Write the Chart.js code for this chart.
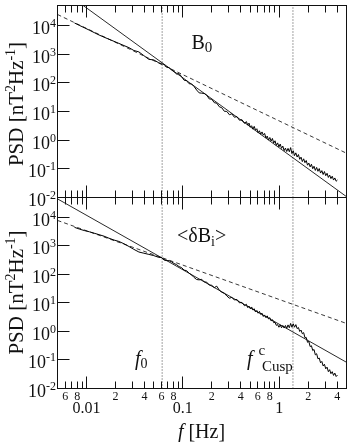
<!DOCTYPE html>
<html><head><meta charset="utf-8">
<script src="https://cdn.jsdelivr.net/npm/chart.js@4.4.1/dist/chart.umd.min.js"></script>
<style>
html,body{margin:0;padding:0;background:#fff;}
#wrap{position:relative;width:349px;height:442px;overflow:hidden;}
canvas{position:absolute;left:0;top:0;}
</style></head><body>
<div id="wrap"><canvas id="c1" width="349" height="442"></canvas><canvas id="c2" width="349" height="442"></canvas></div>
<script>
// ---- data ----
const freq = [0.0075,0.0085,0.0095,0.0107,0.012,0.0135,0.0152,0.0171,0.0193,0.0217,0.0245,0.0276,0.031,0.035,0.0394,0.0444,0.05,0.0563,
0.06,0.0637,0.0677,0.0719,0.0763,0.081,0.086,0.0914,0.097,0.103,0.1094,0.1162,0.1234,0.131,0.1391,0.1478,0.157,0.1667,0.177,0.188,0.1996,0.212,0.2251,0.2391,0.2539,0.2696,0.2863,0.3041,0.3229,0.343,0.3642,0.3868,0.4108,0.4362,
0.457,0.4717,0.4864,0.5017,0.5176,0.534,0.5508,0.5682,0.5861,0.6046,0.6237,0.6434,0.6637,0.6847,0.7063,0.7286,0.7516,0.7753,0.7998,0.8251,0.8511,0.878,0.9057,0.9343,0.9638,0.9943,1.0257,1.058,1.0914,1.1259,1.1614,1.1981,1.2359,1.275,1.3152,1.3568,1.3996,1.4439,1.4894,1.5365,1.585,1.635,1.687,1.74,1.795,1.852,1.91,1.971,2.032,2.097,2.163,2.231,2.301,2.374,2.449,2.527,2.606,2.689,2.773,2.861,2.951,3.044,3.141,3.24,3.342,3.448,3.556,3.669,3.784,3.904,4.027];

const psdB0 = [12300,10000,8360,6890,5690,4680,3930,3330,2810,2380,2000,1690,1350,1200,891,661,631,501,
468,437,361,339,282,245,204,209,166,124,119,93.3,91.2,74.1,56.2,44.7,43.7,42.7,37.2,27.5,26.9,20.4,19.5,14.7,13.5,10.2,10.1,7.73,8.32,6.31,6.68,4.97,5.20,3.87,
4.44,3.36,3.94,2.84,3.19,2.42,3.03,2.24,2.51,1.82,2.13,1.61,1.94,1.50,1.72,1.19,1.39,1.01,1.24,0.935,1.15,0.794,0.953,0.658,0.804,0.582,0.733,0.518,0.622,0.431,0.530,0.402,0.518,0.395,0.550,0.340,0.428,0.289,0.361,0.258,0.315,0.215,0.256,0.179,0.224,0.164,0.195,0.134,0.159,0.117,0.145,0.101,0.123,0.0881,0.112,0.0820,0.102,0.0713,0.0865,0.0634,0.0805,0.0577,0.0700,0.0501,0.0608,0.0456,0.0553,0.0406,0.0481,0.0369,0.0408];

const psdDB = [4500,3870,3460,3140,2800,2490,2200,1870,1610,1440,1190,957,760,612,556,505,457,397,
395,321,306,305,278,242,222,188,175,142,136,110,95.9,78.0,66.4,64.6,67.6,55.0,53.6,42.6,41.6,34.6,38.8,28.0,23.8,21.7,17.6,14.7,15.7,12.7,13.3,10.1,10.5,8.00,
8.99,6.89,7.80,6.25,7.24,5.68,6.28,4.81,5.45,4.37,5.06,3.96,4.39,3.36,3.80,3.05,3.53,2.77,3.06,2.34,2.59,2.03,2.10,1.64,1.74,1.41,1.70,1.35,1.62,1.32,1.62,1.29,1.70,1.35,1.91,1.41,1.86,1.41,1.74,1.26,1.38,1.00,1.12,0.832,0.912,0.603,0.617,0.417,0.447,0.295,0.316,0.214,0.234,0.151,0.166,0.110,0.117,0.0794,0.0891,0.0617,0.0708,0.0490,0.0562,0.0389,0.0457,0.0331,0.0389,0.0288,0.0347,0.0263,0.0295];

// power-law fits (end points at the x-range limits)
const fitFreq = [0.005, 5];
const fitB0Steep = [224000, 0.0107];
const fitB0Shallow = [24300, 0.35];
const fitDBSteep = [44700, 0.083];
const fitDBShallow = [7850, 1.91];

const f0 = 0.061;
const fCusp = 1.39;

const xRange = [0.005, 5];
const yRange = [0.01, 50000];
const yTickValues = [1e4, 1e3, 1e2, 1e1, 1, 0.1, 0.01];
const yTickExponents = ['4','3','2','1','0','-1','-2'];
const xMajorTicks = [0.01, 0.1, 1];
const xMajorLabels = ['0.01', '0.1', '1'];
const xMinorTicks = [0.006,0.007,0.008,0.009,0.02,0.03,0.04,0.05,0.06,0.07,0.08,0.09,0.2,0.3,0.4,0.5,0.6,0.7,0.8,0.9,2,3,4];
const xMinorLabelTicks = [0.006,0.008,0.02,0.04,0.06,0.08,0.2,0.4,0.6,0.8,2,4];
const xMinorLabelTexts = ['6','8','2','4','6','8','2','4','6','8','2','4'];

// ---- drawing helpers ----
const SERIF = '"Liberation Serif","DejaVu Serif","Times New Roman",serif';
function fnt(p){ return (p.it ? 'italic ' : '') + p.s + 'px ' + SERIF; }
function drawRich(ctx, x, y, parts, align){
  let w = 0;
  for (const p of parts){ ctx.font = fnt(p); p._w = ctx.measureText(p.t).width; w += p._w; }
  let cx = align === 'right' ? x - w : (align === 'center' ? x - w/2 : x);
  for (const p of parts){ ctx.font = fnt(p); ctx.fillText(p.t, cx, y + (p.dy || 0)); cx += p._w + (p.dx || 0); }
}
const crisp = v => Math.floor(v) + 0.5;

const decor = {
  id: 'decor',
  afterDraw(chart, args, opts){
    const {ctx, chartArea: a, scales: {x, y}} = chart;
    ctx.save();
    ctx.strokeStyle = '#111'; ctx.fillStyle = '#111'; ctx.lineWidth = 1;
    ctx.textBaseline = 'alphabetic';
    // frame
    ctx.strokeRect(a.left, a.top, a.right - a.left, a.bottom - a.top);
    // y ticks and labels
    yTickValues.forEach((v, i) => {
      const py = crisp(y.getPixelForValue(v));
      ctx.beginPath(); ctx.moveTo(a.left, py); ctx.lineTo(a.left + 12, py); ctx.stroke();
      drawRich(ctx, a.left - 1.5, py + 8, [{t:'10', s:18}, {t:yTickExponents[i], s:12, dy:-7}], 'right');
    });
    // x ticks (inward, top and bottom)
    const tick = (v, len) => {
      const px = crisp(x.getPixelForValue(v));
      ctx.beginPath();
      ctx.moveTo(px, a.top); ctx.lineTo(px, a.top + len);
      ctx.moveTo(px, a.bottom); ctx.lineTo(px, a.bottom - len);
      ctx.stroke();
    };
    xMajorTicks.forEach(v => tick(v, 12));
    xMinorTicks.forEach(v => tick(v, 7));
    // y-axis title
    ctx.save();
    ctx.translate(22.5, opts.titleY);
    ctx.rotate(-Math.PI/2);
    drawRich(ctx, 0, 0, [{t:'PSD [nT', s:21}, {t:'2', s:14, dy:-8}, {t:'Hz', s:21}, {t:'-1', s:14, dy:-8}, {t:']', s:21}], 'center');
    ctx.restore();
    if (opts.panel === 'top'){
      drawRich(ctx, 191.5, 48.5, [{t:'B', s:20}, {t:'0', s:15, dy:3.5}], 'left');
    } else {
      drawRich(ctx, 177, 241.5, [{t:'<\u03B4B', s:20}, {t:'i', s:14, dy:4}, {t:'>', s:20}], 'left');
      drawRich(ctx, 135, 365, [{t:'f', s:20, it:true}, {t:'0', s:14, dy:3}], 'left');
      ctx.font = fnt({t:'f', s:20, it:true}); ctx.fillText('f', 247, 365);
      ctx.font = fnt({s:15}); ctx.fillText('c', 258.5, 354.5);
      ctx.fillText('Cusp', 262, 370.5);
      // x tick labels
      ctx.textAlign = 'center';
      ctx.font = fnt({s:12});
      xMinorLabelTicks.forEach((v, i) => ctx.fillText(xMinorLabelTexts[i], x.getPixelForValue(v), 400));
      ctx.font = fnt({s:16});
      xMajorTicks.forEach((v, i) => ctx.fillText(xMajorLabels[i], x.getPixelForValue(v), 413));
      ctx.textAlign = 'left';
      drawRich(ctx, 201.5, 438, [{t:'f', s:20, it:true}, {t:' [Hz]', s:20}], 'center');
    }
    ctx.restore();
  }
};

function makeChart(id, psd, steep, shallow, pad, panel, titleY){
  const line = (data, extra) => Object.assign({data, borderColor:'#000', borderWidth:1, pointRadius:0, tension:0, clip:0, fill:false}, extra);
  return new Chart(document.getElementById(id), {
    type: 'line',
    data: {datasets: [
      line(freq.map((f, i) => ({x:f, y:psd[i]})), {borderWidth:1}),
      line(fitFreq.map((f, i) => ({x:f, y:steep[i]})), {borderWidth:0.9, borderColor:'#111'}),
      line(fitFreq.map((f, i) => ({x:f, y:shallow[i]})), {borderWidth:0.9, borderColor:'#222', borderDash:[4,3]}),
      line([{x:f0, y:yRange[0]}, {x:f0, y:yRange[1]}], {borderWidth:1, borderColor:'#444', borderDash:[1,2]}),
      line([{x:fCusp, y:yRange[0]}, {x:fCusp, y:yRange[1]}], {borderWidth:1, borderColor:'#444', borderDash:[1,2]})
    ]},
    options: {
      responsive:false, animation:false, devicePixelRatio:1,
      layout: {padding: pad},
      scales: {
        x: {type:'logarithmic', min:xRange[0], max:xRange[1], display:false},
        y: {type:'logarithmic', min:yRange[0], max:yRange[1], display:false}
      },
      plugins: {legend:{display:false}, tooltip:{enabled:false}, decor:{panel, titleY}}
    },
    plugins: [decor]
  });
}

makeChart('c1', psdB0, fitB0Steep, fitB0Shallow, {left:57.5, right:2.5, top:5.5, bottom:244.5}, 'top', 104);
makeChart('c2', psdDB, fitDBSteep, fitDBShallow, {left:57.5, right:2.5, top:197.5, bottom:53.5}, 'bottom', 292.5);
</script>
</body></html>
